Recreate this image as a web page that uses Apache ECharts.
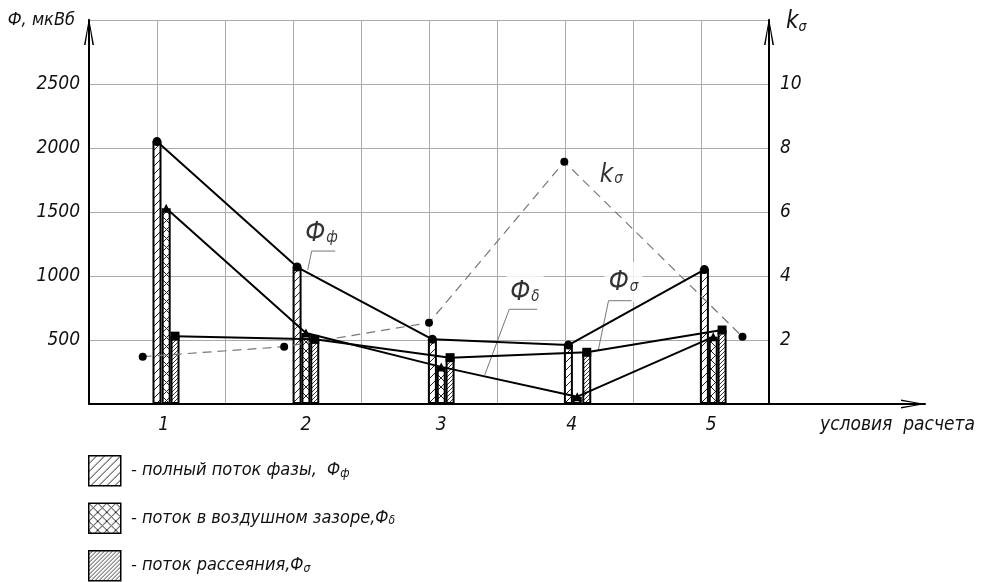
<!DOCTYPE html>
<html><head><meta charset="utf-8">
<script src="https://cdn.jsdelivr.net/npm/echarts@6/dist/echarts.min.js"></script>
<style>html,body{margin:0;padding:0;background:#fff}#c{width:984px;height:582px}</style>
</head><body><div id="c"></div>
<script>
// ---- data ----
const categories = ['1', '2', '3', '4', '5'];
const catPos = [1.10, 3.19, 5.18, 7.10, 9.15];      // x (axis units) of category labels
const fluxPhase = [2050, 1070, 505, 460, 1050];      // Фф, мкВб
const fluxGap = [1530, 555, 290, 57, 525];           // Фδ, мкВб
const fluxLeak = [530, 505, 362, 404, 578];          // Фσ, мкВб
const kSigma = [1.48, 1.79, 2.54, 7.57, 2.1];        // kσ
const xPhase = [1.00, 3.06, 5.05, 7.05, 9.05];
const xGap = [1.135, 3.19, 5.18, 7.18, 9.18];
const xLeak = [1.265, 3.32, 5.31, 7.32, 9.31];
const xK = [0.79, 2.87, 5.0, 6.99, 9.61];
const leftMax = 3000, leftStep = 500;
const rightMax = 12, rightStep = 2;

const FONT = "'Liberation Sans Narrow','DejaVu Sans Condensed','Liberation Sans',sans-serif";

function zip(xs, ys) { return xs.map((x, i) => [x, ys[i]]); }

function hatch(size, dirs, lw) {
  const c = document.createElement('canvas');
  c.width = c.height = size;
  const g = c.getContext('2d');
  g.fillStyle = '#fff'; g.fillRect(0, 0, size, size);
  g.strokeStyle = '#222'; g.lineWidth = lw;
  [-size, 0, size].forEach(k => {
    if (dirs.includes('/')) { g.beginPath(); g.moveTo(k, size); g.lineTo(k + size, 0); g.stroke(); }
    if (dirs.includes('\\')) { g.beginPath(); g.moveTo(k, 0); g.lineTo(k + size, size); g.stroke(); }
  });
  return { image: c, repeat: 'repeat' };
}
const patPhase = hatch(8, ['/'], 1);
const patGap = hatch(9, ['/', '\\'], 1);
const patLeak = hatch(4, ['/'], 0.9);

const arrowPath = 'path://M5,0 L10,27 L8.4,27 L5,4.5 L1.6,27 L0,27 Z';

const richBase = {
  m: { fontFamily: FONT, fontStyle: 'italic', fontSize: 26, color: '#000', verticalAlign: 'bottom', textBorderWidth: 0 },
  s: { fontFamily: FONT, fontStyle: 'italic', fontSize: 15, color: '#000', verticalAlign: 'bottom', padding: [0, 0, 1, 1], textBorderWidth: 0 }
};

const legendText = {
  phase: ' - полный поток фазы,  {lm|Ф}{ls|ф}',
  gap: ' - поток в воздушном зазоре,{lm|Ф}{ls|δ}',
  leak: ' - поток рассеяния,{lm|Ф}{ls|σ}'
};

function leader(pts) {
  return { type: 'line', data: pts, symbol: 'none', silent: true, z: 4,
    lineStyle: { color: '#777', width: 1 }, xAxisIndex: 0, yAxisIndex: 0, animation: false };
}

const option = {
  animation: false,
  backgroundColor: '#fff',
  grid: [
    { left: 89, right: 215, top: 20, bottom: 178, outerBoundsMode: 'none', containLabel: false },
    { left: 89, right: 59, top: 20, bottom: 178, outerBoundsMode: 'none', containLabel: false }
  ],
  xAxis: [
    { gridIndex: 0, type: 'value', min: 0, max: 10, interval: 1,
      axisLine: { show: false }, axisTick: { show: false },
      splitLine: { show: true, lineStyle: { color: '#aaa', width: 1 } },
      axisLabel: { customValues: catPos, margin: 12,
        formatter: v => { let b = 0; catPos.forEach((p, i) => { if (Math.abs(p - v) < Math.abs(catPos[b] - v)) b = i; }); return categories[b]; },
        fontFamily: FONT, fontStyle: 'italic', fontSize: 19, color: '#111' } },
    { gridIndex: 1, type: 'value', min: 0, max: 1,
      axisLine: { show: true, symbol: ['none', arrowPath], symbolSize: [10, 24], symbolOffset: [0, -12],
        lineStyle: { color: '#000', width: 2 } },
      axisTick: { show: false }, axisLabel: { show: false }, splitLine: { show: false },
      name: 'условия  расчета', nameLocation: 'end', nameGap: 50,
      nameTextStyle: { fontFamily: FONT, fontStyle: 'italic', fontSize: 19, color: '#111',
        align: 'right', verticalAlign: 'top', padding: [12, 0, 0, 0] } }
  ],
  yAxis: [
    { gridIndex: 0, type: 'value', min: 0, max: leftMax, interval: leftStep, position: 'left',
      axisLine: { show: true, symbol: ['none', arrowPath], symbolSize: [10, 27], symbolOffset: [0, -11.5],
        lineStyle: { color: '#000', width: 2 } },
      axisTick: { show: false },
      splitLine: { show: true, lineStyle: { color: '#aaa', width: 1 } },
      axisLabel: { showMinLabel: false, showMaxLabel: false, margin: 9, formatter: v => String(v),
        fontFamily: FONT, fontStyle: 'italic', fontSize: 19, color: '#111' },
      name: 'Ф, мкВб', nameLocation: 'end', nameGap: 0,
      nameTextStyle: { fontFamily: FONT, fontStyle: 'italic', fontSize: 18, color: '#111',
        align: 'right', verticalAlign: 'middle', padding: [4, 14, 0, 0] } },
    { gridIndex: 0, type: 'value', min: 0, max: rightMax, interval: rightStep, position: 'right',
      axisLine: { show: true, symbol: ['none', arrowPath], symbolSize: [10, 27], symbolOffset: [0, -11.5],
        lineStyle: { color: '#000', width: 2 } },
      axisTick: { show: false }, splitLine: { show: false },
      axisLabel: { showMinLabel: false, showMaxLabel: false, margin: 11, formatter: v => String(v),
        fontFamily: FONT, fontStyle: 'italic', fontSize: 19, color: '#111' },
      name: '{m|k}{s|σ}', nameLocation: 'end', nameGap: 0,
      nameTextStyle: { align: 'left', verticalAlign: 'middle', padding: [4, 0, 0, 17],
        rich: { m: { fontFamily: FONT, fontStyle: 'italic', fontSize: 24, color: '#111', verticalAlign: 'bottom' },
                s: { fontFamily: FONT, fontStyle: 'italic', fontSize: 14, color: '#111', verticalAlign: 'bottom' } } } },
    { gridIndex: 1, type: 'value', min: 0, max: 1, show: false }
  ],
  legend: {
    data: ['phase', 'gap', 'leak'], orient: 'vertical', left: 88, top: 455, height: 140, padding: 0,
    itemWidth: 32, itemHeight: 30, itemGap: 16, icon: 'rect',
    itemStyle: { borderColor: '#000', borderWidth: 1.5 },
    formatter: n => legendText[n],
    textStyle: { fontFamily: FONT, fontStyle: 'italic', fontSize: 18, color: '#111',
      rich: { lm: { fontFamily: FONT, fontStyle: 'italic', fontSize: 17, color: '#111' },
              ls: { fontFamily: FONT, fontStyle: 'italic', fontSize: 12, color: '#111', verticalAlign: 'bottom' } } }
  },
  series: [
    { name: 'phase', type: 'bar', data: zip(xPhase, fluxPhase), barWidth: 9, barGap: '-100%', z: 2,
      itemStyle: { color: patPhase, borderColor: '#000', borderWidth: 2 } },
    { name: 'gap', type: 'bar', data: zip(xGap, fluxGap), barWidth: 9, barGap: '-100%', z: 2,
      itemStyle: { color: patGap, borderColor: '#000', borderWidth: 2 } },
    { name: 'leak', type: 'bar', data: zip(xLeak, fluxLeak), barWidth: 9, barGap: '-100%', z: 2,
      itemStyle: { color: patLeak, borderColor: '#000', borderWidth: 2 } },
    { name: 'Фф line', type: 'line', data: zip(xPhase, fluxPhase), symbol: 'circle', symbolSize: 9, z: 5,
      lineStyle: { color: '#000', width: 2 }, itemStyle: { color: '#000' } },
    { name: 'Фδ line', type: 'line', data: zip(xGap, fluxGap), symbol: 'triangle', symbolSize: 9, z: 5,
      lineStyle: { color: '#000', width: 2 }, itemStyle: { color: '#000' } },
    { name: 'Фσ line', type: 'line', data: zip(xLeak, fluxLeak), symbol: 'rect', symbolSize: 9, z: 5,
      lineStyle: { color: '#000', width: 2 }, itemStyle: { color: '#000' } },
    { name: 'kσ line', type: 'line', yAxisIndex: 1, data: zip(xK, kSigma), symbol: 'circle', symbolSize: 8, z: 4,
      lineStyle: { color: '#777', width: 1.2, type: [9, 6] }, itemStyle: { color: '#000' } },
    leader([[3.62, 1195], [3.275, 1195], [3.216, 1047]]),
    leader([[6.59, 740], [6.18, 740], [5.82, 227]]),
    leader([[7.98, 807], [7.64, 807], [7.49, 422]]),
    { type: 'scatter', silent: true, z: 3, symbolSize: 1, itemStyle: { color: 'rgba(0,0,0,0)' },
      label: { show: true, position: 'inside', color: '#000', textBorderWidth: 0, rich: richBase },
      data: [
        { value: [3.42, 1330], label: { formatter: '{m|Ф}{s|ф}' } },
        { value: [6.41, 875], label: { formatter: '{m|Ф}{s|δ}', backgroundColor: '#fff', padding: [4, 4, 2, 4] } },
        { value: [7.86, 953], label: { formatter: '{m|Ф}{s|σ}', backgroundColor: '#fff', padding: [8, 4, 6, 4] } },
        { value: [7.68, 1790], label: { formatter: '{m|k}{s|σ}' } }
      ] }
  ]
};
echarts.init(document.getElementById('c')).setOption(option);
</script></body></html>
